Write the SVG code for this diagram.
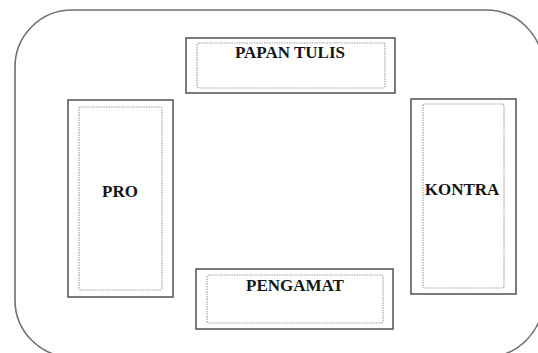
<svg xmlns="http://www.w3.org/2000/svg" width="538" height="353" viewBox="0 0 538 353">
  <style>
    .outer { fill: none; stroke: #5a5a5a; stroke-width: 1.6; }
    .inner { fill: none; stroke: #a0a0a0; stroke-width: 1.2; stroke-dasharray: 1.5 1; }
    .frame { fill: none; stroke: #707070; stroke-width: 1.6; }
    .label { font-family: "Liberation Serif", "Times New Roman", serif; font-weight: bold; font-size: 17px; fill: #151515; text-anchor: middle; }
  </style>
  <rect x="0" y="0" width="538" height="353" fill="#ffffff"/>
  <rect id="room" class="frame" x="15" y="10" width="528" height="347" rx="57" ry="57"/>
  <g id="papan-tulis">
    <rect class="outer" x="186" y="38" width="209" height="55"/>
    <rect class="inner" x="197" y="43" width="188" height="45" rx="2"/>
    <text class="label" x="290" y="58">PAPAN TULIS</text>
  </g>
  <g id="pro">
    <rect class="outer" x="68" y="100" width="105" height="197"/>
    <rect class="inner" x="79" y="107" width="83" height="183" rx="2"/>
    <text class="label" x="120" y="197">PRO</text>
  </g>
  <g id="kontra">
    <rect class="outer" x="411" y="99" width="105" height="195"/>
    <rect class="inner" x="423" y="104" width="81" height="184" rx="2"/>
    <text class="label" x="462" y="195">KONTRA</text>
  </g>
  <g id="pengamat">
    <rect class="outer" x="196" y="269" width="197" height="60"/>
    <rect class="inner" x="207" y="275" width="176" height="48" rx="2"/>
    <text class="label" x="295" y="291">PENGAMAT</text>
  </g>
  <g id="connectors"></g>
</svg>
